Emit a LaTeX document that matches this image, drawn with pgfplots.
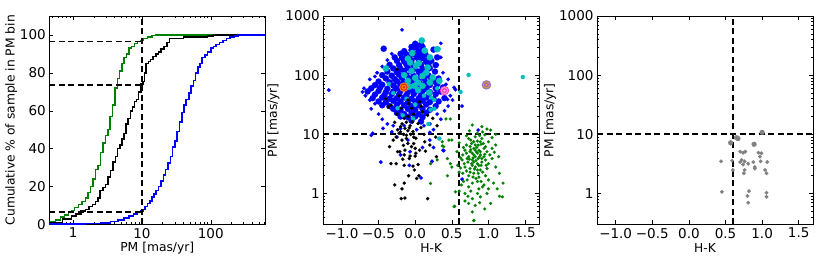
\documentclass[border=0pt]{standalone}
\usepackage{pgfplots}
\pgfplotsset{compat=1.18}
\usepackage{fontspec}
\setmainfont{DejaVu Sans}
\definecolor{mgreen}{rgb}{0,0.5,0}
\definecolor{mblue}{rgb}{0,0,1}
\definecolor{mcyan}{rgb}{0,0.75,0.75}
\definecolor{mgrey}{rgb}{0.5,0.5,0.5}
\definecolor{tgorange}{rgb}{1,0.55,0.05}
\definecolor{tgred}{rgb}{0.9,0.1,0.1}
\definecolor{tgmag}{rgb}{1,0.2,0.75}
\definecolor{tgpink}{rgb}{1,0.65,0.85}
\definecolor{tgpurple}{rgb}{0.55,0.4,0.75}
\definecolor{tgtan}{rgb}{0.9,0.6,0.3}
\pgfplotsset{
  mpl/.style={
    scale only axis, width=216pt, height=208.5pt, anchor=south west,
    tick align=inside, major tick length=4pt, minor tick length=2pt,
    every tick/.style={black, line width=0.5pt},
    axis line style={line width=0.8pt},
    tick label style={font=\fontsize{13.5}{13.5}\selectfont},
    label style={font=\fontsize{12.3}{12.3}\selectfont},
    xlabel style={at={(axis description cs:0.5,-0.113)}, anchor=center},
  },
  hk/.style={
    mpl, xmin=-1.255, xmax=1.695, ymin=0.3, ymax=1000,
    xtick={-1,-0.5,0,0.5,1,1.5},
    xticklabels={−1.0,−0.5,0.0,0.5,1.0,1.5},
    ytick={1,10,100,1000}, yticklabels={1,10,100,1000},
    minor ytick={0.3,0.4,0.5,0.6,0.7,0.8,0.9,2,3,4,5,6,7,8,9,20,30,40,50,60,70,80,90,200,300,400,500,600,700,800,900},
    xlabel={H-K}, ylabel={PM [mas/yr]},
  },
}
\tikzset{dashln/.style={black, line width=1.8pt, dash pattern=on 6pt off 3.5pt},
  dots/.style={only marks, mark=*, mark size=#1, mark options={line width=0.1pt}}}
\begin{document}
\begin{tikzpicture}
\useasboundingbox (0,0) rectangle (830pt,261pt);
% ---------------- Panel 1 ----------------
\begin{axis}[xmode=log, mpl, at={(49.3pt,36.5pt)},
  xmin=0.45, xmax=620, ymin=0, ymax=110,
  xtick={1,10,100}, xticklabels={1,10,100},
  minor xtick={0.5,0.6,0.7,0.8,0.9,2,3,4,5,6,7,8,9,20,30,40,50,60,70,80,90,200,300,400,500,600},
  ytick={0,20,40,60,80,100}, yticklabels={0,20,40,60,80,100},
  xlabel={PM [mas/yr]}, ylabel={Cumulative \% of sample in PM bin},
  ylabel style={at={(axis description cs:-0.176,0.5)}, anchor=center},
]
\addplot[const plot, mgreen, line width=1.5pt] coordinates {
(0.45,1.5) (0.55,2.5) (0.65,4) (0.75,5) (0.85,6.5) (0.95,7.5) (1.05,9) (1.2,10.5)
(1.35,12) (1.5,14) (1.65,17) (1.8,20) (1.95,24) (2.1,29) (2.3,31) (2.5,38) (2.7,43)
(2.95,47) (3.2,50) (3.45,57) (3.75,63) (4.05,72) (4.4,77) (4.75,81) (5.1,85) (5.5,88)
(6.0,90) (6.5,93) (7.0,94) (7.8,95.5) (8.6,96.5) (9.5,97) (10.5,98) (12,99) (14,99.6)
(16,100) (620,100)};
\addplot[const plot, black, line width=1.5pt] coordinates {
(0.45,1) (0.7,3) (0.95,4.5) (1.1,5.5) (1.3,7) (1.5,8) (1.7,9.5) (1.9,10.5) (2.1,12)
(2.3,14) (2.45,18) (2.7,19.5) (2.95,21) (3.2,25) (3.5,28.5) (3.8,33) (4.1,36) (4.4,40)
(4.8,42) (5.1,45) (5.5,48) (5.9,53) (6.3,56) (6.8,60) (7.3,62) (7.8,65) (8.3,66) (8.9,70)
(9.6,74) (10.3,75.5) (10.8,80) (11.4,85) (12.4,86) (13.4,87) (14.5,88.5) (16,90) (17.5,91)
(19,92.5) (21,94) (23,96) (25,98) (32,98) (40,98.8) (60,99) (90,99.5) (110,100) (620,100)};
\addplot[const plot, mblue, line width=1.5pt] coordinates {
(0.45,0.3) (1.5,0.5) (2.5,0.8) (3.5,1.5) (4.5,2.5) (5.5,3.5) (6.5,4.5) (7.5,5.5) (8.5,6.5)
(9.5,7.2) (10.3,8) (11,9.5) (12,11) (13,12.5) (14,14.5) (15,16) (16,18) (17.5,20) (19,23)
(20.5,26) (22,29) (24,32.5) (26,36) (28,41) (30,44) (32.5,49) (35,54) (38,59) (41,63)
(44,66) (48,69.5) (52,73) (56,76) (60,80) (65,83) (70,85) (75,88) (82,89.5) (90,91)
(100,93) (110,94) (120,95) (135,96) (150,97) (170,98) (190,98.8) (220,99.5) (250,100) (620,100)};
\addplot[dashln] coordinates {(10,0) (10,110)};
\addplot[dashln] coordinates {(0.45,96.5) (10,96.5)};
\addplot[dashln] coordinates {(0.45,73.5) (10,73.5)};
\addplot[dashln] coordinates {(0.45,6.5) (10,6.5)};
\end{axis}
% ---------------- Panel 2 ----------------
\begin{axis}[ymode=log, hk, at={(323.3pt,36.5pt)},
  ylabel style={at={(axis description cs:-0.231,0.5)}, anchor=center}]
% blue small
\addplot[dots=1.9pt, color=mblue] coordinates {
(-1.18,56) (-0.18,585) (0.35,345) (-0.6,9.7) (-0.47,3.4) (0.2,10.8) (0.64,1.75) (0.53,62)
(0.55,57) (0.51,38) (0.44,39) (0.64,30) (-0.7,60) (-0.72,52) (-0.68,45) (-0.62,38) (-0.55,33)
(-0.6,27) (-0.5,22) (-0.45,18) (-0.58,10.4) (-0.44,12.6) (-0.38,15) (-0.3,14) (0.3,22) (0.35,18)
(0.4,25) (0.45,30) (0.48,45) (0.42,70) (0.45,85) (0.38,110) (0.3,150) (0.35,200) (-0.32,230)
(-0.38,180) (-0.45,140) (-0.52,110) (-0.62,85) (-0.55,95) (-0.25,9) (-0.1,8) (0.2,8) (0.25,6)
(0.1,6) (-0.2,4.5) (-0.07,5.1) (-0.08,3.0) (0.08,1.84) (0.23,3.5) (0.39,5.3) (0.86,11.8)
(0.38,5.4) (0.02,12) (0.12,14) (-0.2,12.5) (-0.32,11) (-0.15,14) (0.2,15) (0.25,12)};
% blue big
\addplot[dots=3.1pt, color=mblue] coordinates {
(-0.43,280) (0.0,340) (0.08,330) (-0.05,300) (0.02,290) (0.1,300) (-0.15,255) (-0.05,265)
(0.05,250) (0.12,245) (0.25,270) (-0.2,230) (-0.12,225) (-0.02,230) (0.06,220) (0.14,225)
(-0.28,200) (-0.18,195) (-0.08,205) (0.02,200) (0.1,195) (0.18,190) (0.3,200) (-0.25,175)
(-0.15,170) (-0.05,178) (0.05,172) (0.15,168) (0.22,175) (-0.35,150) (-0.22,148) (-0.12,152)
(-0.02,145) (0.08,150) (0.18,155) (0.28,148) (-0.3,130) (-0.2,128) (-0.1,133) (0.0,130)
(0.1,128) (0.2,132) (-0.38,115) (-0.25,112) (-0.15,118) (-0.05,115) (0.05,113) (0.15,116)
(0.27,115) (-0.45,100) (-0.32,98) (-0.22,102) (-0.12,100) (-0.02,97) (0.08,101) (0.18,99)
(-0.4,88) (-0.28,86) (-0.18,90) (-0.08,88) (0.02,86) (0.12,89) (0.22,87) (0.32,88)
(-0.5,78) (-0.35,76) (-0.25,79) (-0.15,77) (-0.05,80) (0.05,78) (0.15,76) (0.25,79)
(-0.55,68) (-0.45,69) (-0.3,67) (-0.2,70) (-0.1,68) (0.0,67) (0.1,69) (0.2,68) (0.3,70)
(-0.6,60) (-0.48,61) (-0.38,59) (-0.25,60) (-0.05,58) (0.05,61) (0.15,59) (0.28,60) (0.38,62)
(-0.65,53) (-0.5,54) (-0.4,52) (-0.3,53) (-0.2,54) (-0.1,52) (0.0,53) (0.1,54) (0.2,52) (0.35,53)
(-0.55,47) (-0.42,46) (-0.32,48) (-0.22,47) (-0.12,46) (-0.02,48) (0.08,47) (0.18,46) (0.28,48)
(-0.58,41) (-0.45,42) (-0.35,40) (-0.25,41) (-0.15,42) (-0.05,40) (0.05,41) (0.15,42) (0.25,40) (0.4,41)
(-0.5,36) (-0.4,35) (-0.3,37) (-0.2,36) (-0.1,35) (0.0,36) (0.1,37) (0.2,35) (0.32,36)
(-0.45,31) (-0.35,30) (-0.25,32) (-0.15,31) (-0.05,30) (0.05,31) (0.15,32) (0.28,30)
(-0.3,27) (-0.2,26) (-0.1,27) (0.0,26) (0.1,27) (0.2,26) (-0.25,23) (-0.15,22) (-0.05,23)
(0.05,22) (0.15,23) (-0.2,20) (-0.1,19.5) (0.0,20) (0.1,19.5) (-0.05,17) (0.08,16.5)};
% cyan big
\addplot[dots=3.2pt, color=mcyan] coordinates {
(0.09,386) (0.3,275) (0.13,260) (-0.04,236) (-0.40,130) (-0.07,164) (-0.05,118) (0.01,144)
(0.10,97) (0.17,135) (0.24,91) (-0.1,80) (0.04,75) (-0.01,66) (0.10,66) (0.33,80) (-0.08,64)
(0.04,56) (0.19,51) (0.2,200) (-0.1,190) (0.05,160) (0.15,110) (-0.15,100) (0.0,90) (0.2,75)};
% cyan small
\addplot[dots=2.1pt, color=mcyan] coordinates {
(1.47,93) (0.73,101) (0.26,27) (-0.17,21) (-0.03,18.6) (0.33,8.5) (-0.24,27.6) (0.26,38)
(0.21,26) (0.18,15) (0.62,52) (0.32,277) (-0.36,71) (-0.3,50) (0.22,42) (-0.12,40) (0.0,32)
(0.12,45) (0.3,60)};
% black
\addplot[dots=1.7pt, color=black] coordinates {
(-0.25,126) (-0.33,31) (-0.19,27.6) (-0.09,33) (-0.05,27.6) (0.06,35.7) (0.1,24) (-0.15,18.6)
(-0.04,16.3) (-0.2,13.5) (-0.14,12.6) (-0.08,12.9) (-0.22,10.4) (-0.12,9.7) (-0.03,11.1)
(0.01,8.6) (-0.18,8) (-0.1,7) (-0.05,6.2) (-0.14,5.4) (-0.24,5.1) (0.06,5.4) (-0.35,6.2)
(0.13,7.5) (0.2,6.6) (0.04,15.3) (0.24,18.6) (0.17,21) (-0.37,29) (-0.21,5.1) (-0.15,4.5)
(-0.07,4.3) (0.01,4.8) (-0.17,3.8) (-0.08,3.9) (0.0,4.3) (-0.15,3.0) (-0.03,2.9) (0.04,3.1)
(-0.33,3.2) (-0.26,3.2) (-0.01,2.5) (-0.09,2.0) (0.05,2.0) (0.02,1.8) (-0.15,1.5) (-0.28,1.4)
(-0.18,1.2) (-0.19,0.82) (-0.14,0.84) (0.17,0.82) (0.14,5.2) (0.29,4.2) (-0.26,9) (-0.2,11)
(-0.16,10) (-0.1,11.5) (-0.06,10) (-0.02,9) (-0.12,8.5) (-0.07,14) (-0.18,15) (-0.12,16)
(-0.24,12) (-0.28,16) (-0.1,20) (-0.02,22) (-0.25,22) (0.08,13) (0.12,10) (-0.3,8) (-0.16,6.5)
(-0.02,7) (0.0,5.8) (0.28,9) (0.3,14) (-0.4,40) (-0.22,45) (-0.1,38) (0.08,30)};
% green
\addplot[dots=1.55pt, color=mgreen] coordinates {
(0.42,18.2) (0.48,18.2) (0.78,14.4) (0.91,13.5) (0.98,12.3) (1.03,11.8) (0.85,10.4) (0.37,7.5)
(0.5,8.0) (0.39,6.2) (0.57,5.1) (0.48,3.2) (0.44,2.0) (0.6,2.3) (0.21,3.2) (0.21,1.48)
(0.3,3.7) (0.37,6.4) (0.44,3.9) (0.5,2.8) (0.46,8) (0.54,0.61) (0.8,0.35)
(0.73,8.5) (0.82,9.1) (0.91,8.5) (1.0,7.5) (1.1,6.6) (0.7,6.6) (0.77,7.0) (0.86,6.6) (0.96,6.2)
(1.05,5.8) (0.68,5.4) (0.75,5.1) (0.82,5.4) (0.89,5.1) (0.98,5.1) (0.65,4.5) (0.73,4.2) (0.8,4.5)
(0.86,3.9) (0.94,4.2) (1.05,3.9) (1.14,4.2) (0.64,3.7) (0.72,3.4) (0.78,3.7) (0.85,3.2) (0.91,3.4)
(1.0,3.2) (0.68,2.8) (0.75,2.65) (0.82,2.8) (0.89,2.5) (0.98,2.65) (1.1,2.8) (0.65,2.2) (0.73,2.0)
(0.8,2.2) (0.87,1.9) (0.96,2.0) (0.71,1.7) (0.78,1.5) (0.85,1.6) (0.94,1.4) (0.73,1.3) (0.87,1.2)
(1.0,1.2) (1.12,1.2) (1.19,0.88) (0.68,1.0) (0.78,0.82) (0.89,0.88) (1.03,0.68) (0.73,0.68)
(0.82,0.63) (0.53,0.6) (0.78,0.49) (0.8,0.35) (0.55,1.07) (0.75,6.2) (0.8,5.8) (0.85,4.8)
(0.78,4.8) (0.87,5.4) (0.82,4.2) (0.91,3.9) (0.78,3.0) (0.85,2.5) (0.75,2.3) (0.87,3.0) (0.8,3.4)
(0.89,4.5) (0.94,5.8) (0.71,3.9) (0.96,3.7) (0.82,6.6) (0.85,7.7) (0.89,7.5) (1.15,2.2) (1.2,1.5)
(0.62,4.0) (0.66,6.0) (0.6,7.2) (0.7,9.5) (0.95,9.8) (1.05,8.8) (0.68,0.75) (0.95,0.55) (0.9,1.6)
(1.0,1.7) (0.58,3.0) (0.63,1.4)
(0.76,5.5) (0.84,5.0) (0.79,4.0) (0.88,4.2) (0.83,3.6) (0.77,3.2) (0.9,3.0) (0.81,2.6) (0.86,2.2)
(0.79,1.9) (0.92,2.3) (0.74,3.8) (0.95,4.6) (0.7,4.8) (0.84,6.0) (0.9,6.8) (0.8,7.5) (0.76,8.0)
(0.93,7.0) (0.88,9.5) (0.67,3.2) (0.97,3.0) (1.02,4.5) (1.08,5.0) (0.62,2.7) (0.7,2.4) (0.83,1.8)
(0.92,1.3) (0.76,1.1) (0.85,1.0) (0.98,1.0) (1.07,1.5) (0.66,1.6) (0.6,1.1) (0.72,0.9) (0.88,0.7)
(1.15,0.9) (0.92,11) (0.74,11.5) (1.1,10)};
% targets
\addplot[dots=4.6pt, color=tgorange] coordinates {(-0.155,62.6)};
\addplot[dots=3.5pt, color=tgred] coordinates {(-0.155,62.6)};
\addplot[dots=2.4pt, color=tgorange] coordinates {(-0.155,62.6)};
\addplot[dots=1.2pt, color=tgred] coordinates {(-0.155,62.6)};
\addplot[dots=4.6pt, color=tgmag] coordinates {(0.4,55)};
\addplot[dots=3.5pt, color=tgpink] coordinates {(0.4,55)};
\addplot[dots=2.4pt, color=tgmag] coordinates {(0.4,55)};
\addplot[dots=1.2pt, color=tgpink] coordinates {(0.4,55)};
\addplot[dots=4.6pt, color=tgpurple] coordinates {(0.973,68.6)};
\addplot[dots=3.5pt, color=tgtan] coordinates {(0.973,68.6)};
\addplot[dots=2.4pt, color=tgpurple] coordinates {(0.973,68.6)};
\addplot[dots=1.2pt, color=tgtan] coordinates {(0.973,68.6)};
\addplot[dashln] coordinates {(0.6,0.3) (0.6,1000)};
\addplot[dashln] coordinates {(-1.255,10) (1.695,10)};
\end{axis}
% ---------------- Panel 3 ----------------
\begin{axis}[ymode=log, hk, at={(597pt,36.5pt)},
  ylabel style={at={(axis description cs:-0.218,0.5)}, anchor=center}]
\addplot[dots=2.5pt, color=mgrey] coordinates {
(1.0,10.8) (0.65,8.8) (0.67,8.5) (0.57,7.2) (0.89,6.8)};
\addplot[dots=1.9pt, color=mgrey] coordinates {
(0.7,5.1) (0.74,4.9) (0.77,5.1) (0.95,4.9) (0.99,4.8) (0.97,4.2) (0.98,3.5) (0.88,3.4)
(0.72,3.7) (0.76,3.5) (0.7,3.4) (0.81,3.2) (0.74,3.1) (0.59,3.6) (0.44,3.5) (1.07,3.4)
(0.9,2.8) (0.9,2.65) (0.76,2.5) (0.75,2.2) (0.6,2.5) (1.04,2.5) (1.06,2.2) (0.45,1.07)
(0.82,1.1) (0.8,0.91) (1.06,1.03) (1.06,0.88) (0.81,0.7)};
\addplot[dashln] coordinates {(0.6,0.3) (0.6,1000)};
\addplot[dashln] coordinates {(-1.255,10) (1.695,10)};
\end{axis}
\end{tikzpicture}
\end{document}
